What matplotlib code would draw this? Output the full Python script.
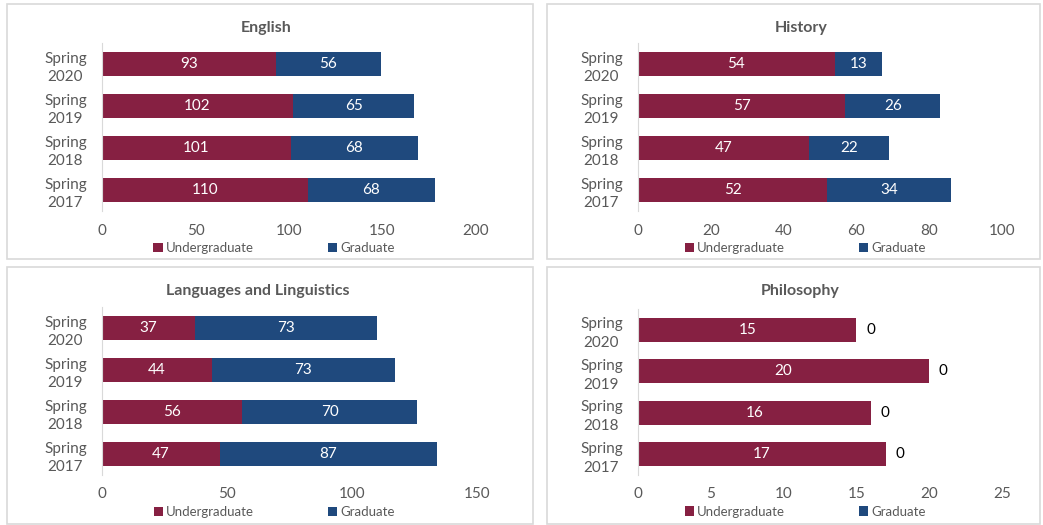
import matplotlib.pyplot as plt
from matplotlib.patches import Rectangle

terms = ["Spring\n2017", "Spring\n2018", "Spring\n2019", "Spring\n2020"]

english_ug = [110, 101, 102, 93]
english_gr = [68, 68, 65, 56]
history_ug = [52, 47, 57, 54]
history_gr = [34, 22, 26, 13]
lang_ug = [47, 56, 44, 37]
lang_gr = [87, 70, 73, 73]
phil_ug = [17, 16, 20, 15]
phil_gr = [0, 0, 0, 0]

UG_COLOR = "#862042"
GR_COLOR = "#1F497D"
GRAY = "#595959"

plt.rcParams["font.family"] = ["Lato", "DejaVu Sans"]

W, H = 1043, 525
fig = plt.figure(figsize=(W / 100, H / 100), dpi=100)


def px(x0, y0, x1, y1):
    # pixel box -> figure fraction [left, bottom, width, height]
    return [x0 / W, 1 - y1 / H, (x1 - x0) / W, (y1 - y0) / H]


panels = [
    ("English", english_ug, english_gr, 200, 50, (7, 4, 533, 259), (102, 43, 476, 211), 266),
    ("History", history_ug, history_gr, 100, 20, (547, 4, 1040, 259), (638, 43, 1002, 211), 801),
    ("Languages and Linguistics", lang_ug, lang_gr, 150, 50, (7, 267, 533, 524), (102, 307, 477, 475), 258),
    ("Philosophy", phil_ug, phil_gr, 25, 5, (547, 267, 1040, 524), (638, 309, 1002, 475), 800),
]

for title, ug, gr, xmax, step, box, axbox, tx in panels:
    fig.patches.append(Rectangle((box[0] / W, 1 - box[3] / H), (box[2] - box[0]) / W,
                                 (box[3] - box[1]) / H, transform=fig.transFigure,
                                 fill=False, edgecolor="#D9D9D9", linewidth=1.2))
    fig.text(tx / W, 1 - (box[1] + 24) / H, title, ha="center", va="center",
             fontsize=11.5, fontweight="bold", color=GRAY)

    ax = fig.add_axes(px(*axbox))
    y = range(len(terms))
    b1 = ax.barh(y, ug, height=0.57, color=UG_COLOR, label="Undergraduate")
    b2 = ax.barh(y, gr, left=ug, height=0.57, color=GR_COLOR, label="Graduate")
    ax.bar_label(b1, labels=[str(v) for v in ug], label_type="center", color="white", fontsize=11)
    if max(gr) == 0:
        ax.bar_label(b2, labels=[str(v) for v in gr], label_type="edge", padding=7,
                     color="black", fontsize=11)
    else:
        ax.bar_label(b2, labels=[str(v) for v in gr], label_type="center", color="white", fontsize=11)

    ax.set_xlim(0, xmax)
    ax.set_xticks(range(0, xmax + 1, step))
    ax.set_ylim(-0.5, 3.5)
    ax.set_yticks(list(y))
    ax.set_yticklabels(terms)
    for t in ax.get_yticklabels():
        t.set_multialignment("center")
        t.set_linespacing(1.45)
    ax.tick_params(axis="both", length=0, labelsize=11, labelcolor=GRAY)
    ax.tick_params(axis="y", pad=11)
    ax.tick_params(axis="x", pad=9)
    for s in ["top", "right", "bottom"]:
        ax.spines[s].set_visible(False)
    ax.spines["left"].set_color("#D9D9D9")

    ax.legend(loc="center", bbox_to_anchor=(0.46, -0.22), ncol=2, frameon=False,
              fontsize=9.5, labelcolor=GRAY, handlelength=0.7, handleheight=0.7,
              handletextpad=0.25, columnspacing=5.6, borderaxespad=0)

fig.savefig("out.png", dpi=100)
